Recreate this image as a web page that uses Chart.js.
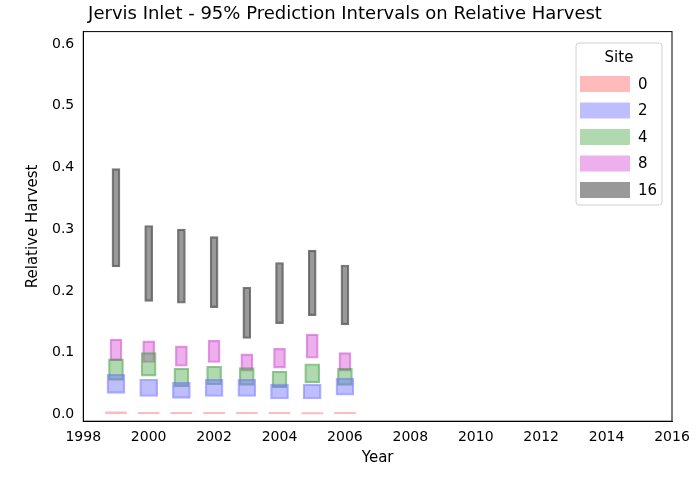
<!DOCTYPE html>
<html><head><meta charset="utf-8">
<script src="https://cdn.jsdelivr.net/npm/chart.js@4"></script>
<style>html,body{margin:0;padding:0;background:#fff}#w{width:700px;height:477px}</style>
</head><body><div id="w"><canvas id="c"></canvas></div>
<script>
const years = [1999, 2000, 2001, 2002, 2003, 2004, 2005, 2006];
const sites = ['0', '2', '4', '8', '16'];
const site0Low  = [0.001,0.001,0.001,0.001,0.001,0.001,0.0008,0.001];
const site0High = [0.004,0.0035,0.0035,0.0035,0.0035,0.0035,0.003,0.0035];
const site2Low  = [0.034,0.029,0.026,0.029,0.029,0.025,0.025,0.031];
const site2High = [0.065,0.057,0.052,0.057,0.057,0.049,0.049,0.059];
const site4Low  = [0.055,0.062,0.045,0.048,0.047,0.043,0.051,0.047];
const site4High = [0.090,0.100,0.075,0.078,0.076,0.070,0.082,0.075];
const site8Low  = [0.087,0.084,0.078,0.084,0.070,0.075,0.091,0.070];
const site8High = [0.122,0.119,0.111,0.120,0.098,0.107,0.130,0.100];
const site16Low = [0.239,0.183,0.180,0.173,0.123,0.147,0.160,0.145];
const site16High= [0.398,0.306,0.300,0.288,0.206,0.246,0.266,0.242];

const lows = [site0Low, site2Low, site4Low, site8Low, site16Low];
const highs = [site0High, site2High, site4High, site8High, site16High];
const fills = ['rgba(255,130,130,0.55)','rgba(110,110,255,0.45)','rgba(80,170,80,0.45)','rgba(215,80,215,0.45)','rgba(70,70,70,0.55)'];
const edges = ['rgba(255,130,130,0.5)','rgba(110,110,255,0.55)','rgba(60,150,60,0.55)','rgba(200,60,200,0.55)','rgba(50,50,50,0.65)'];
const widths = [21, 18, 15, 12, 8];

const datasets = sites.map((s, i) => ({
  label: s,
  data: years.map((y, j) => ({x: y, y: [lows[i][j], highs[i][j]]})),
  backgroundColor: fills[i], borderColor: edges[i], borderWidth: i===0?0:1.5,
  borderSkipped: false, barThickness: widths[i], grouped: false
}));

const legendPlugin = {
  id: 'lg',
  afterDraw(chart) {
    const ctx = chart.ctx;
    const x0 = 576, y0 = 43, w = 86, h = 162;
    ctx.save();
    ctx.fillStyle = 'rgba(255,255,255,0.85)';
    ctx.strokeStyle = '#d0d0d0'; ctx.lineWidth = 1;
    ctx.beginPath(); ctx.roundRect(x0, y0, w, h, 3); ctx.fill(); ctx.stroke();
    ctx.fillStyle = '#000'; ctx.font = '15px "DejaVu Sans"';
    ctx.textAlign = 'center'; ctx.textBaseline = 'middle';
    ctx.fillText('Site', x0 + w/2, y0 + 15);
    ctx.textAlign = 'left';
    sites.forEach((s, i) => {
      const yy = y0 + 41 + i * 26.5;
      ctx.fillStyle = fills[i];
      ctx.fillRect(x0 + 4, yy - 8, 50, 16);
      ctx.fillStyle = '#000';
      ctx.fillText(s, x0 + 62, yy + 1);
    });
    ctx.restore();
  }
};

new Chart(document.getElementById('c'), {
  type: 'bar',
  data: { datasets },
  options: {
    responsive: true, maintainAspectRatio: false, animation: false,
    layout: { padding: { left: 18, right: 28, top: 2, bottom: 10 } },
    plugins: {
      legend: { display: false }, tooltip: { enabled: false },
      title: { display: true, text: 'Jervis Inlet - 95% Prediction Intervals on Relative Harvest',
        color: '#000', font: { family: 'DejaVu Sans', size: 18, weight: 'normal' }, padding: { top: 2, bottom: 6 } }
    },
    scales: {
      x: { type: 'linear', min: 1998, max: 2016, offset: false,
        grid: { display: false, drawTicks: true, tickLength: 5, tickColor: '#000' },
        border: { color: '#000', width: 1 },
        ticks: { stepSize: 2, color: '#000', padding: 3, maxRotation: 0, font: { family: 'DejaVu Sans', size: 14 }, callback: v => String(v) },
        title: { display: true, text: 'Year', color: '#000', font: { family: 'DejaVu Sans', size: 15 }, padding: 0 } },
      y: { min: -0.011, max: 0.62,
        grid: { display: false, drawTicks: true, tickLength: 5, tickColor: '#000' },
        border: { color: '#000', width: 1 },
        afterBuildTicks: a => { a.ticks = [0,0.1,0.2,0.3,0.4,0.5,0.6].map(v => ({value: v})); },
        ticks: { color: '#000', padding: 4, font: { family: 'DejaVu Sans', size: 14 }, callback: v => v.toFixed(1) },
        title: { display: true, text: 'Relative Harvest', color: '#000', font: { family: 'DejaVu Sans', size: 15 }, padding: 6 } }
    }
  },
  plugins: [legendPlugin, {
    id: 'frame', afterDraw(c) { const a = c.chartArea, x = c.ctx; x.save(); x.strokeStyle = '#000'; x.lineWidth = 1;
      x.strokeRect(a.left, a.top, a.right - a.left, a.bottom - a.top); x.restore(); }
  }]
});
</script></body></html>
